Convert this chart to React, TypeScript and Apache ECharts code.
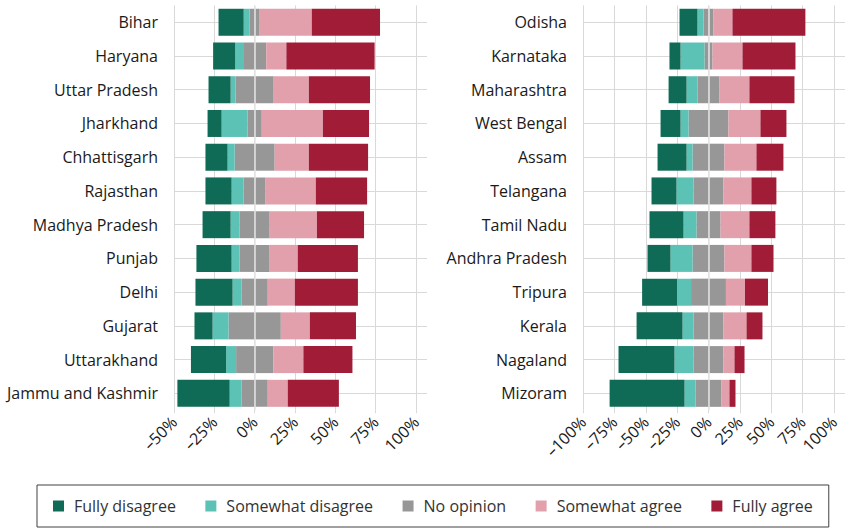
import React, { useEffect, useRef } from "react";
import * as echarts from "echarts";

const categoriesLeft = ["Bihar", "Haryana", "Uttar Pradesh", "Jharkhand", "Chhattisgarh", "Rajasthan", "Madhya Pradesh", "Punjab", "Delhi", "Gujarat", "Uttarakhand", "Jammu and Kashmir"];
const fullyDisagreeLeft = [15.6, 13.7, 13.7, 8.7, 13.7, 16.2, 17.4, 21.8, 23.0, 11.2, 21.8, 32.4];
const somewhatDisagreeLeft = [3.7, 4.9, 3.1, 16.1, 4.4, 7.5, 5.6, 5.0, 5.6, 9.9, 6.2, 7.4];
const noOpinionLeft = [6.2, 14.3, 23.6, 8.8, 24.8, 13.6, 18.6, 18.6, 16.2, 32.4, 23.0, 16.2];
const somewhatAgreeLeft = [32.3, 12.5, 21.8, 37.9, 21.2, 31.1, 29.3, 17.4, 16.8, 18.0, 18.7, 12.4];
const fullyAgreeLeft = [42.3, 54.7, 37.9, 28.6, 36.7, 31.8, 29.2, 37.3, 39.1, 28.6, 30.4, 31.7];

const categoriesRight = ["Odisha", "Karnataka", "Maharashtra", "West Bengal", "Assam", "Telangana", "Tamil Nadu", "Andhra Pradesh", "Tripura", "Kerala", "Nagaland", "Mizoram"];
const fullyDisagreeRight = [14.3, 8.8, 14.3, 15.9, 23.1, 19.9, 27.1, 18.3, 27.8, 36.6, 44.6, 59.7];
const somewhatDisagreeRight = [4.8, 19.1, 8.7, 6.4, 4.8, 13.6, 10.3, 17.6, 11.2, 8.8, 15.2, 8.7];
const noOpinionRight = [8.0, 6.4, 17.6, 31.8, 25.4, 23.8, 19.2, 25.4, 27.8, 23.8, 23.8, 20.8];
const somewhatAgreeRight = [15.1, 23.9, 23.8, 25.5, 25.5, 22.3, 23.0, 21.5, 15.2, 18.4, 8.8, 6.3];
const fullyAgreeRight = [58.1, 42.2, 35.9, 20.7, 21.5, 19.9, 20.7, 17.6, 18.3, 12.7, 8.0, 4.8];

const seriesNames = ["Fully disagree", "Somewhat disagree", "No opinion", "Somewhat agree", "Fully agree"];
const colors = ["#0f6b55", "#5cc2b6", "#979797", "#e1a0ac", "#a01c37"];

const FONT = "Open Sans";
const GRID_LINE = "#d9d9d9";
const TEXT = "#1a1a1a";

function panelSeries(idx: number, fd: number[], sd: number[], no: number[], sa: number[], fa: number[]) {
  const base = { type: "bar", stack: "s" + idx, xAxisIndex: idx, yAxisIndex: idx * 2, barWidth: 27, silent: true };
  return [
    { ...base, name: seriesNames[2], data: no.map((v) => -v / 2), itemStyle: { color: colors[2] } },
    { ...base, name: seriesNames[1], data: sd.map((v) => -v), itemStyle: { color: colors[1] } },
    { ...base, name: seriesNames[0], data: fd.map((v) => -v), itemStyle: { color: colors[0] } },
    { ...base, name: seriesNames[2], data: no.map((v) => v / 2), itemStyle: { color: colors[2] } },
    { ...base, name: seriesNames[3], data: sa, itemStyle: { color: colors[3] } },
    {
      ...base,
      name: seriesNames[4],
      data: fa,
      itemStyle: { color: colors[4] },
      markLine: {
        silent: true,
        symbol: "none",
        label: { show: false },
        lineStyle: { color: "#e4e4e4", width: 1.5, type: "solid" },
        data: [{ xAxis: 0 }],
      },
    },
  ];
}

function xAxis(idx: number, min: number) {
  return {
    type: "value",
    gridIndex: idx,
    min,
    max: 100,
    interval: 25,
    axisLine: { show: false },
    axisTick: { show: true, length: 3, lineStyle: { color: GRID_LINE } },
    splitLine: { show: true, lineStyle: { color: GRID_LINE, width: 1 } },
    axisLabel: {
      rotate: 45,
      margin: 9,
      fontFamily: FONT,
      fontSize: 16,
      color: TEXT,
      formatter: (v: number) => (v < 0 ? "–" + Math.abs(v) : String(v)) + "%",
    },
  };
}

function yAxes(idx: number, cats: string[]) {
  return [
    {
      type: "category",
      gridIndex: idx,
      data: cats,
      inverse: true,
      axisLine: { show: false },
      axisTick: { show: true, alignWithLabel: true, length: 11, lineStyle: { color: GRID_LINE } },
      splitLine: { show: true, alignWithLabel: true, lineStyle: { color: GRID_LINE } },
      axisLabel: { margin: 16, fontFamily: FONT, fontSize: 16, color: TEXT },
    },
    {
      type: "category",
      gridIndex: idx,
      position: "right",
      data: cats,
      inverse: true,
      axisLine: { show: false },
      axisTick: { show: true, alignWithLabel: true, length: 11, lineStyle: { color: GRID_LINE } },
      splitLine: { show: false },
      axisLabel: { show: false },
    },
  ];
}

export default function App() {
  const ref = useRef<HTMLDivElement>(null);
  useEffect(() => {
    document.body.style.margin = "0";
    if (!ref.current) return;
    const chart = echarts.init(ref.current, null, { renderer: "svg" });
    chart.setOption({
      animation: false,
      textStyle: { fontFamily: FONT },
      grid: [
        { left: 174, width: 242, top: 5.4, height: 404.8 },
        { left: 583, width: 251, top: 5.4, height: 404.8 },
      ],
      xAxis: [xAxis(0, -50), xAxis(1, -100)],
      yAxis: [...yAxes(0, categoriesLeft), ...yAxes(1, categoriesRight)],
      legend: {
        left: 37,
        top: 485,
        orient: "horizontal",
        padding: [13, 16, 13, 16],
        borderColor: "#404040",
        borderWidth: 1,
        itemWidth: 11,
        itemHeight: 11,
        itemGap: 29.5,
        icon: "rect",
        selectedMode: false,
        data: seriesNames.map((n, i) => ({ name: n, itemStyle: { color: colors[i] } })),
        textStyle: { fontFamily: FONT, fontSize: 16, color: "#333", padding: [0, 0, 0, 5] },
      },
      series: [
        ...panelSeries(0, fullyDisagreeLeft, somewhatDisagreeLeft, noOpinionLeft, somewhatAgreeLeft, fullyAgreeLeft),
        ...panelSeries(1, fullyDisagreeRight, somewhatDisagreeRight, noOpinionRight, somewhatAgreeRight, fullyAgreeRight),
      ],
    });
    return () => chart.dispose();
  }, []);
  return <div ref={ref} style={{ width: 846, height: 529 }} />;
}
